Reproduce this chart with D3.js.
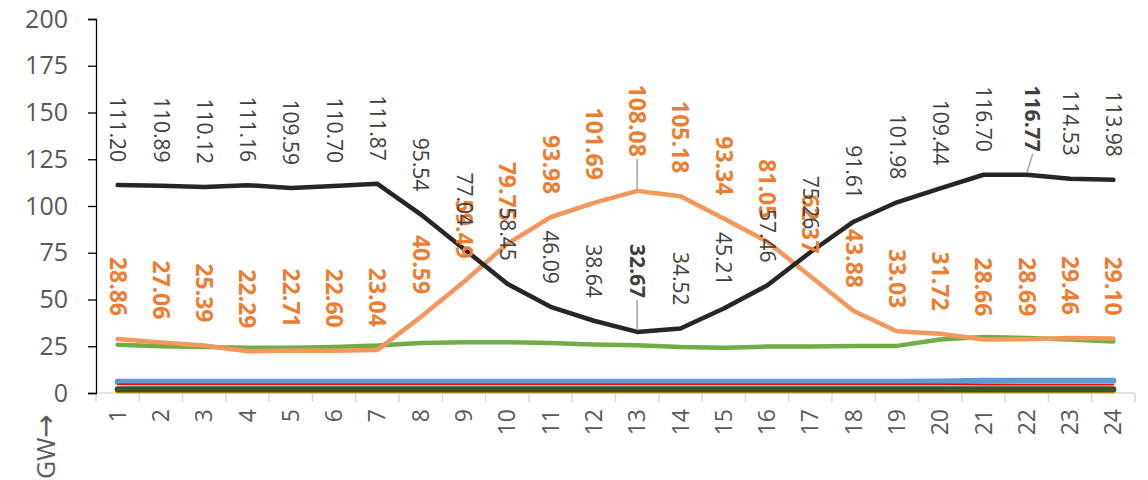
<!DOCTYPE html>
<meta charset="utf-8">
<style>
    body { margin: 0; background: #fff; }
    .chart text { font-family: "Open Sans", "Noto Sans", sans-serif; }
    .tick-lbl { fill: #595959; }
</style>
<svg class="chart" width="1148" height="480"></svg>
<script src="https://cdn.jsdelivr.net/npm/d3@7"></script>
<script>
    // hours of the day
    const hours = d3.range(1, 25);
    const yTicks = [0, 25, 50, 75, 100, 125, 150, 175, 200];

    // series values (GW)
    const netLoad = [111.20, 110.89, 110.12, 111.16, 109.59, 110.70, 111.87, 95.54, 77.04, 58.45, 46.09, 38.64,
        32.67, 34.52, 45.21, 57.46, 75.26, 91.61, 101.98, 109.44, 116.70, 116.77, 114.53, 113.98];
    const solar = [28.86, 27.06, 25.39, 22.29, 22.71, 22.60, 23.04, 40.59, 59.49, 79.75, 93.98, 101.69,
        108.08, 105.18, 93.34, 81.05, 62.37, 43.88, 33.03, 31.72, 28.66, 28.69, 29.46, 29.10];
    const wind = [25.8, 25.0, 24.6, 24.2, 24.2, 24.6, 25.4, 26.8, 27.2, 27.2, 26.8, 26.0,
        25.6, 24.6, 24.2, 24.8, 24.8, 25.2, 25.2, 28.6, 30.0, 29.4, 28.6, 27.6];
    const hydro = [6.0, 6.0, 6.0, 6.0, 6.0, 6.0, 6.0, 6.0, 6.0, 6.0, 6.0, 6.0,
        6.0, 6.0, 6.0, 6.0, 6.0, 6.0, 6.0, 6.1, 6.5, 6.6, 6.6, 6.6];
    const battery = [4.6, 4.6, 4.6, 4.6, 4.6, 4.6, 4.6, 4.6, 4.6, 4.6, 4.6, 4.6,
        4.6, 4.6, 4.6, 4.6, 4.6, 4.6, 4.6, 4.6, 4.5, 4.4, 4.4, 4.4];
    const biomass = [2.0, 2.0, 2.0, 2.0, 2.0, 2.0, 2.0, 2.0, 2.0, 2.0, 2.0, 2.0,
        2.0, 2.0, 2.0, 2.0, 2.0, 2.0, 2.0, 2.0, 2.0, 2.0, 2.0, 2.0];
    const geothermal = [1.2, 1.2, 1.2, 1.2, 1.2, 1.2, 1.2, 1.2, 1.2, 1.2, 1.2, 1.2,
        1.2, 1.2, 1.2, 1.2, 1.2, 1.2, 1.2, 1.2, 1.2, 1.2, 1.2, 1.2];

    const svg = d3.select(".chart");

    const x = d3.scaleBand().domain(hours).range([96, 1135]);
    const y = d3.scaleLinear().domain([0, 200]).range([393, 19]);
    const cx = h => x(h) + x.bandwidth() / 2;

    // x axis (light grey, ticks between categories)
    svg.append("line").attr("x1", 96).attr("x2", 1135).attr("y1", y(0)).attr("y2", y(0))
        .attr("stroke", "#d9d9d9").attr("stroke-width", 1.5);
    svg.selectAll(".xt").data(d3.range(0, 25)).join("line")
        .attr("x1", i => 96 + i * x.step()).attr("x2", i => 96 + i * x.step())
        .attr("y1", y(0)).attr("y2", y(0) + 9)
        .attr("stroke", "#d9d9d9").attr("stroke-width", 1.5);
    svg.selectAll(".xl").data(hours).join("text")
        .attr("class", "tick-lbl")
        .attr("transform", h => `translate(${cx(h)},409) rotate(-90)`)
        .attr("text-anchor", "end").attr("dy", "0.35em")
        .style("font-size", "23px")
        .text(d => d);

    // y axis
    const yAxis = d3.axisLeft(y).tickValues(yTicks).tickSize(8).tickPadding(20);
    const gy = svg.append("g").attr("transform", "translate(96,0)").call(yAxis);
    gy.select(".domain").attr("stroke", "#000").attr("stroke-width", 1.3);
    gy.selectAll(".tick line").attr("stroke", "#000").attr("stroke-width", 1.3);
    gy.selectAll(".tick text").attr("class", "tick-lbl").attr("fill", "#595959")
        .style("font-size", "25px").style("font-family", '"Open Sans", sans-serif');

    const gw = svg.append("text").attr("class", "tick-lbl")
        .attr("transform", "translate(46,479) rotate(-90)")
        .attr("dy", "0.35em").style("font-size", "25px");
    gw.append("tspan").text("GW");
    gw.append("tspan").style("font-family", '"DejaVu Sans", sans-serif').style("font-size", "28px").text("→");

    const line = d3.line().x((d, i) => cx(hours[i])).y(d => y(d));

    const series = [
        {v: geothermal, c: "#bf9000", w: 5},
        {v: biomass, c: "#375623", w: 6},
        {v: hydro, c: "#5b9bd5", w: 6},
        {v: battery, c: "#ff0000", w: 1.6},
        {v: wind, c: "#70ad47", w: 4.5},
        {v: solar, c: "#f4975a", w: 4.5},
        {v: netLoad, c: "#262626", w: 4.5}
    ];
    svg.selectAll(".series").data(series).join("path")
        .attr("d", s => line(s.v))
        .attr("fill", "none")
        .attr("stroke", s => s.c).attr("stroke-width", s => s.w)
        .attr("stroke-linecap", "round").attr("stroke-linejoin", "round");

    // data labels, rotated 90deg, sitting above the points
    function labels(vals, color, weight, size, moved) {
        const g = svg.append("g");
        vals.forEach((v, i) => {
            const m = moved[i] || {};
            const gap = m.gap || 23;
            const lx = cx(hours[i]) + (m.dx || 0);
            const ly = y(v) - gap;
            if (m.leader) {
                g.append("line")
                    .attr("x1", lx).attr("y1", ly + 2)
                    .attr("x2", cx(hours[i])).attr("y2", y(v) - 2)
                    .attr("stroke", "#a6a6a6").attr("stroke-width", 1.5);
            }
            g.append("text")
                .attr("transform", `translate(${lx},${ly}) rotate(90)`)
                .attr("text-anchor", "end").attr("dy", "0.35em")
                .attr("fill", color)
                .style("font-size", size + "px")
                .attr("font-weight", m.bold ? "bold" : weight)
                .text(v.toFixed(2));
        });
    }
    labels(solar, "#ed7d31", "bold", 23, {12: {gap: 34, leader: true}});
    labels(netLoad, "#404040", "normal", 21, {12: {gap: 34, leader: true, bold: true}, 21: {gap: 23, dx: 6, leader: true, bold: true}});
</script>
